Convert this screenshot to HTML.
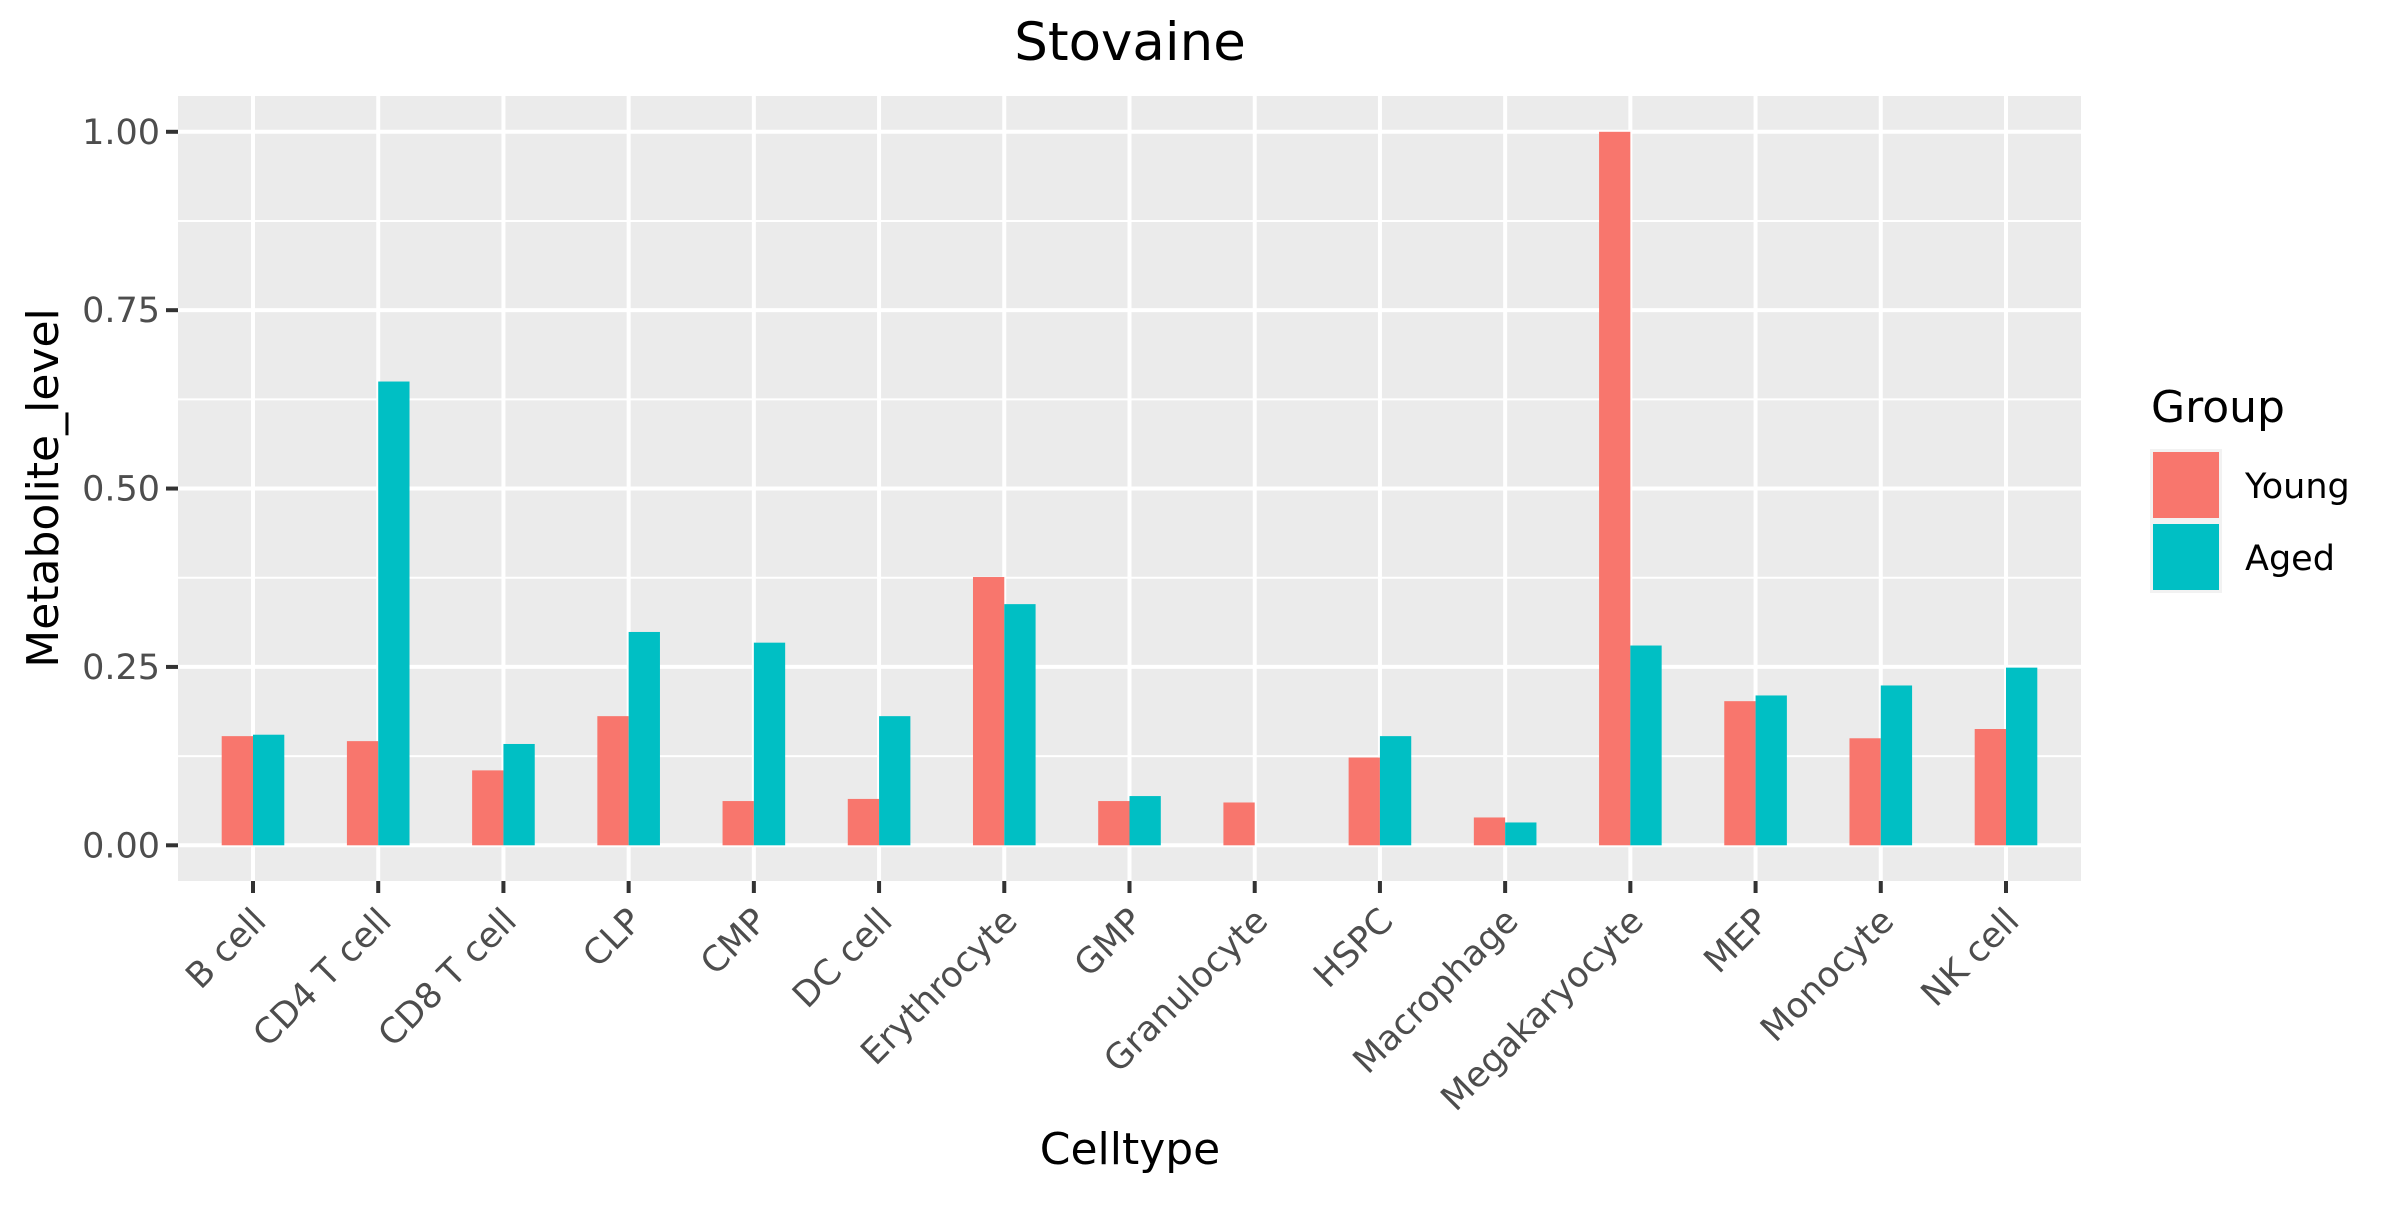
<!DOCTYPE html>
<html><head><meta charset="utf-8"><style>
html,body{margin:0;padding:0;background:#fff;}
svg text{font-family:"DejaVu Sans","Liberation Sans",sans-serif;}
</style></head><body>
<svg id="chart" width="2400" height="1200" viewBox="0 0 2400 1200" xmlns="http://www.w3.org/2000/svg">
<rect width="2400" height="1200" fill="#fff"/>
<rect x="178" y="96" width="1903" height="785" fill="#EBEBEB"/>
<g id="grid"></g>
<g id="bars"></g>
<g id="axes"></g>
<text x="1130" y="60" font-size="53" text-anchor="middle" fill="#000">Stovaine</text>
<text x="1130" y="1164" font-size="44" text-anchor="middle" fill="#000">Celltype</text>
<text transform="translate(58,488) rotate(-90)" font-size="44" text-anchor="middle" fill="#000">Metabolite_level</text>
<g>
<text x="2151" y="422" font-size="44" fill="#000">Group</text>
<rect x="2150" y="449" width="72" height="144" fill="#F2F2F2"/>
<rect x="2153" y="452" width="66" height="66" fill="#F8766D"/>
<rect x="2153" y="524" width="66" height="66" fill="#00BFC4"/>
<text x="2245" y="498" font-size="35" fill="#000">Young</text>
<text x="2245" y="570" font-size="35" fill="#000">Aged</text>
</g>
</svg>
<script>
const categories = ["B cell","CD4 T cell","CD8 T cell","CLP","CMP","DC cell","Erythrocyte","GMP","Granulocyte","HSPC","Macrophage","Megakaryocyte","MEP","Monocyte","NK cell"];
const youngValues = [0.153,0.146,0.105,0.181,0.062,0.065,0.376,0.062,0.060,0.123,0.039,1.000,0.202,0.150,0.163];
const agedValues = [0.155,0.650,0.142,0.299,0.284,0.181,0.338,0.069,0,0.153,0.032,0.280,0.210,0.224,0.249];
const yTicks = [0,0.25,0.5,0.75,1.0];
const yTickLabels = ["0.00","0.25","0.50","0.75","1.00"];

const NS="http://www.w3.org/2000/svg";
const panel={l:178,r:2081,t:96,b:881};
const y0px=845.3, y1px=131.8;
function yScale(v){return y0px+(y1px-y0px)*v;}
const x0=253, step=(2006-253)/14;
function xScale(i){return x0+step*i;}
const barW=step*0.25;
function mk(tag,attrs,parent){const e=document.createElementNS(NS,tag);for(const k in attrs)e.setAttribute(k,attrs[k]);parent.appendChild(e);return e;}
const grid=document.getElementById('grid'), bars=document.getElementById('bars'), axes=document.getElementById('axes');
// minor grid
for(let i=0;i<yTicks.length-1;i++){
  const v=(yTicks[i]+yTicks[i+1])/2;
  const l=mk('line',{x1:panel.l,x2:panel.r,y1:yScale(v),y2:yScale(v),stroke:'#fff','stroke-width':2},grid);
  
  
}
yTicks.forEach((v,i)=>{
  const l=mk('line',{x1:panel.l,x2:panel.r,y1:yScale(v),y2:yScale(v),stroke:'#fff','stroke-width':4},grid);
  
  
  const t=mk('line',{x1:panel.l-12,x2:panel.l,y1:yScale(v),y2:yScale(v),stroke:'#333','stroke-width':4},axes);
  
  
  const tx=mk('text',{x:panel.l-18,y:yScale(v)+12,'font-size':35,'text-anchor':'end',fill:'#4D4D4D'},axes);
  tx.textContent=yTickLabels[i];
  
  
});
categories.forEach((c,i)=>{
  const x=xScale(i);
  const g=mk('line',{x1:x,x2:x,y1:panel.t,y2:panel.b,stroke:'#fff','stroke-width':4},grid);
  
  
  const by=mk('rect',{x:x-barW,y:yScale(youngValues[i]),width:barW,height:yScale(0)-yScale(youngValues[i]),fill:'#F8766D'},bars);
  
  
  const ba=mk('rect',{x:x,y:yScale(agedValues[i]),width:barW,height:yScale(0)-yScale(agedValues[i]),fill:'#00BFC4'},bars);
  
  
  const t=mk('line',{x1:x,x2:x,y1:panel.b,y2:panel.b+12,stroke:'#333','stroke-width':4},axes);
  
  
  const tx=mk('text',{transform:`translate(${x+15},923) rotate(-45)`,'font-size':35,'text-anchor':'end',fill:'#4D4D4D'},axes);
  tx.textContent=c;
  
  
});
</script>
</body></html>
